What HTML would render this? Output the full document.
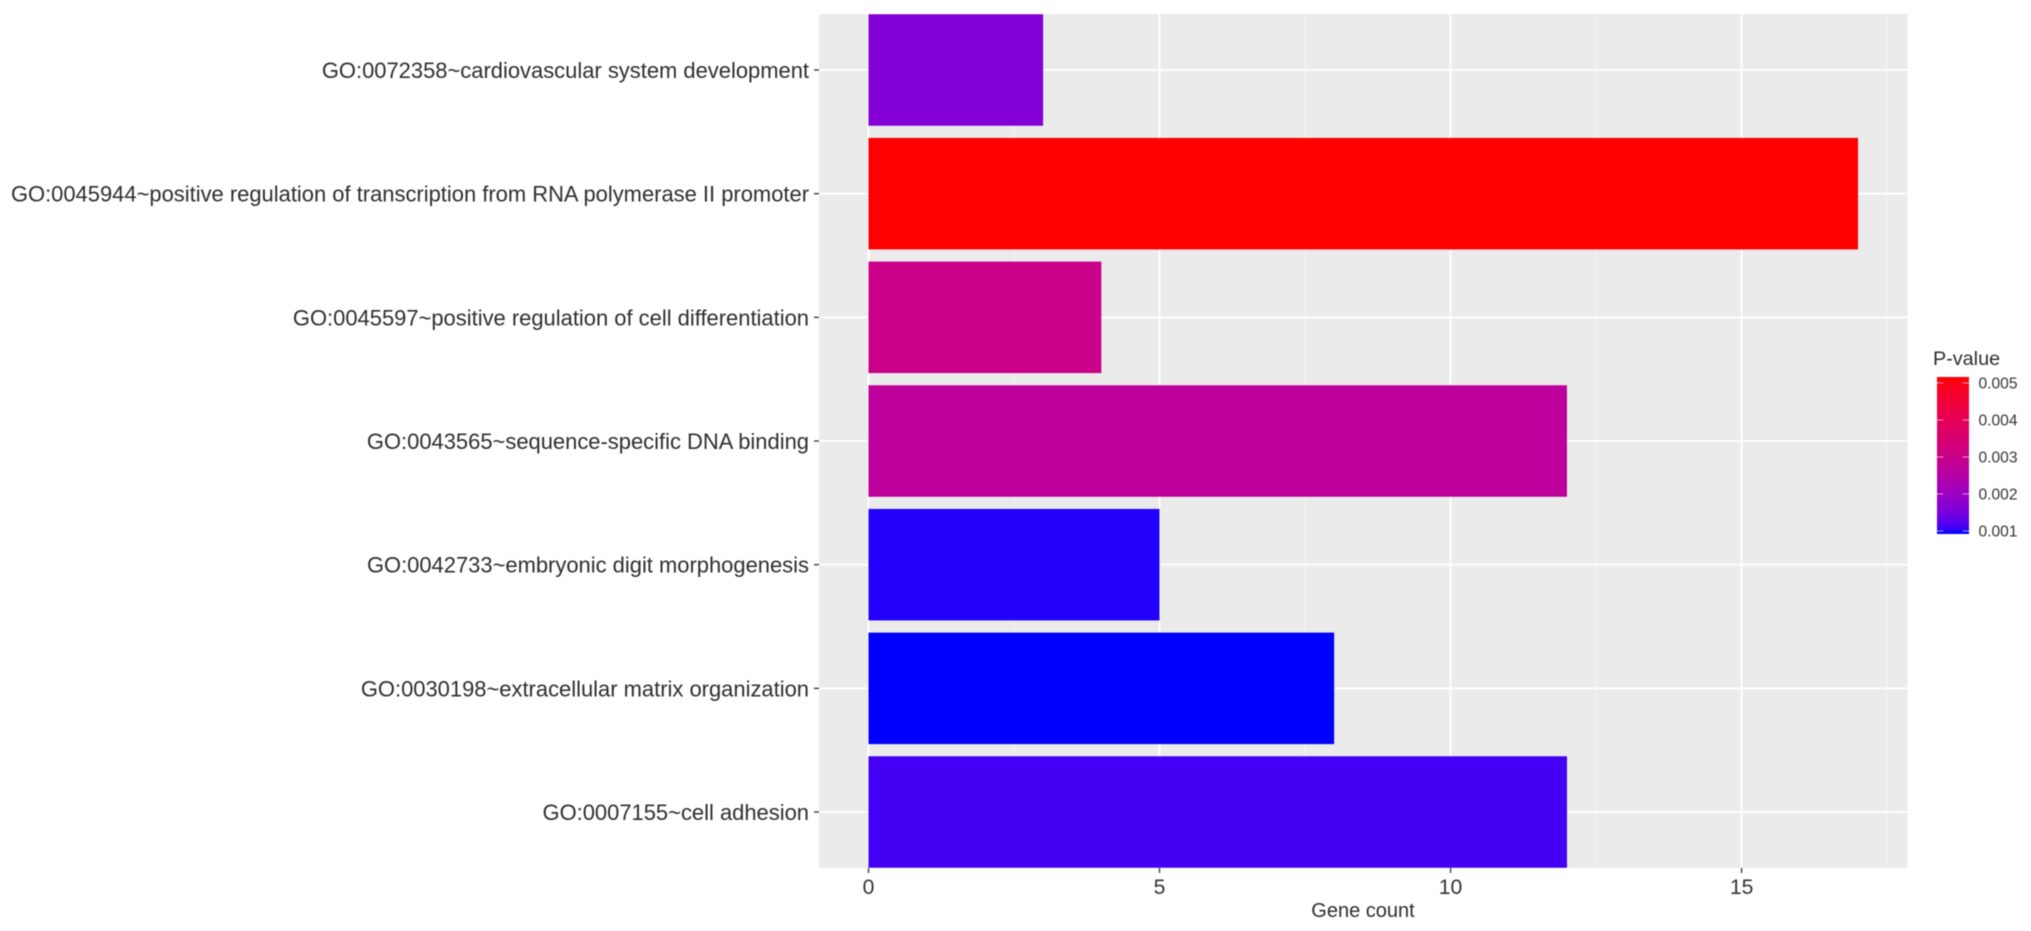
<!DOCTYPE html>
<html>
<head>
<meta charset="utf-8">
<title>GO enrichment bar chart</title>
<style>
html,body{margin:0;padding:0;background:#fff;width:2031px;height:931px;overflow:hidden}
svg{display:block;filter:blur(0.5px)}
text{font-family:"Liberation Sans",Arial,sans-serif}
</style>
</head>
<body>
<svg id="chart" xmlns="http://www.w3.org/2000/svg" width="2031" height="931" viewBox="0 0 2031 931"></svg>
<script>
const categories = [
  "GO:0072358~cardiovascular system development",
  "GO:0045944~positive regulation of transcription from RNA polymerase II promoter",
  "GO:0045597~positive regulation of cell differentiation",
  "GO:0043565~sequence-specific DNA binding",
  "GO:0042733~embryonic digit morphogenesis",
  "GO:0030198~extracellular matrix organization",
  "GO:0007155~cell adhesion"
];
const geneCounts = [3, 17, 4, 12, 5, 8, 12];
const pValues = [0.00164, 0.00516, 0.00304, 0.00270, 0.00097, 0.00092, 0.00109];
const xTicks = [0, 5, 10, 15];
const xMinorTicks = [2.5, 7.5, 12.5, 17.5];
const legendTicks = [0.001, 0.002, 0.003, 0.004, 0.005];
const legendTickLabels = ["0.001", "0.002", "0.003", "0.004", "0.005"];
const xDomain = [-0.85, 17.85];
const pDomain = [0.00092, 0.00516];

const NS = "http://www.w3.org/2000/svg";
const svg = document.getElementById("chart");
const panel = {left: 819, right: 1907.5, top: 14, bottom: 868};
const legendBar = {left: 1937, right: 1969, top: 377, bottom: 534};
const slotTop = 70, slotStep = 123.67, barThickness = 111.5;

function xScale(v) {
  return panel.left + (v - xDomain[0]) / (xDomain[1] - xDomain[0]) * (panel.right - panel.left);
}
function yScale(i) {
  return slotTop + i * slotStep;
}
function pScale(p) {
  return legendBar.bottom - (p - pDomain[0]) / (pDomain[1] - pDomain[0]) * (legendBar.bottom - legendBar.top);
}
function make(tag, attrs, parent) {
  const el = document.createElementNS(NS, tag);
  for (const k in attrs) el.setAttribute(k, attrs[k]);
  (parent || svg).appendChild(el);
  return el;
}

/* Lab interpolation from blue to red, like a ggplot2 gradient */
const labBlue = [32.30, 79.19, -107.86];
const labRed = [53.24, 80.09, 67.20];
function labToHex(L, a, b) {
  const fy = (L + 16) / 116, fx = fy + a / 500, fz = fy - b / 200;
  const inv = t => t > 6 / 29 ? t * t * t : 3 * (6 / 29) * (6 / 29) * (t - 4 / 29);
  const X = 0.95047 * inv(fx), Y = inv(fy), Z = 1.08883 * inv(fz);
  const lin = [
    3.2406 * X - 1.5372 * Y - 0.4986 * Z,
    -0.9689 * X + 1.8758 * Y + 0.0415 * Z,
    0.0557 * X - 0.2040 * Y + 1.0570 * Z
  ];
  return "#" + lin.map(c => {
    c = Math.min(1, Math.max(0, c));
    const s = c <= 0.0031308 ? 12.92 * c : 1.055 * Math.pow(c, 1 / 2.4) - 0.055;
    return Math.round(s * 255).toString(16).padStart(2, "0");
  }).join("");
}
function fillColor(p) {
  const t = Math.min(1, Math.max(0, (p - pDomain[0]) / (pDomain[1] - pDomain[0])));
  return labToHex(
    labBlue[0] + t * (labRed[0] - labBlue[0]),
    labBlue[1] + t * (labRed[1] - labBlue[1]),
    labBlue[2] + t * (labRed[2] - labBlue[2])
  );
}

/* panel */
const panelRect = make("rect", {x: panel.left, y: panel.top, width: panel.right - panel.left, height: panel.bottom - panel.top, fill: "#ebebeb"});



/* gridlines */
xMinorTicks.forEach(v => {
  const g = make("line", {x1: xScale(v), x2: xScale(v), y1: panel.top, y2: panel.bottom, stroke: "#f4f4f4", "stroke-width": 1});
  
  
});
xTicks.forEach(v => {
  const g = make("line", {x1: xScale(v), x2: xScale(v), y1: panel.top, y2: panel.bottom, stroke: "#ffffff", "stroke-width": 1.8});
  
  
});
categories.forEach((c, i) => {
  const g = make("line", {x1: panel.left, x2: panel.right, y1: yScale(i), y2: yScale(i), stroke: "#ffffff", "stroke-width": 1.8});
  
  
});

/* bars */
categories.forEach((c, i) => {
  const bar = make("rect", {
    x: xScale(0),
    y: yScale(i) - barThickness / 2,
    width: xScale(geneCounts[i]) - xScale(0),
    height: barThickness,
    fill: fillColor(pValues[i])
  });
  
  
});

/* y axis */
categories.forEach((c, i) => {
  const tick = make("line", {x1: panel.left - 5, x2: panel.left, y1: yScale(i), y2: yScale(i), stroke: "#333333", "stroke-width": 1.3});
  
  
  const label = make("text", {x: panel.left - 10, y: yScale(i) + 8, "text-anchor": "end", "font-size": 21.95, fill: "#2e2e2e"});
  label.textContent = c;
  
  
});

/* x axis */
xTicks.forEach(v => {
  const tick = make("line", {x1: xScale(v), x2: xScale(v), y1: panel.bottom, y2: panel.bottom + 5, stroke: "#333333", "stroke-width": 1.3});
  
  
  const label = make("text", {x: xScale(v), y: 894, "text-anchor": "middle", "font-size": 21.2, fill: "#333333"});
  label.textContent = String(v);
  
  
});
const xTitle = make("text", {x: 1363, y: 917, "text-anchor": "middle", "font-size": 20, fill: "#2e2e2e"});
xTitle.textContent = "Gene count";



/* legend */
const legendTitle = make("text", {x: 1933, y: 365, "font-size": 19.8, fill: "#2e2e2e"});
legendTitle.textContent = "P-value";



const defs = make("defs", {});
const grad = make("linearGradient", {id: "legendGradient", x1: 0, y1: 1, x2: 0, y2: 0}, defs);
for (let s = 0; s <= 20; s++) {
  const f = s / 20;
  make("stop", {offset: f, "stop-color": fillColor(pDomain[0] + f * (pDomain[1] - pDomain[0]))}, grad);
}
const legendRect = make("rect", {x: legendBar.left, y: legendBar.top, width: legendBar.right - legendBar.left, height: legendBar.bottom - legendBar.top, fill: "url(#legendGradient)"});



legendTicks.forEach((p, i) => {
  const y = pScale(p);
  const t1 = make("line", {x1: legendBar.left, x2: legendBar.left + 6.4, y1: y, y2: y, stroke: "#ffffff", "stroke-opacity": 0.6, "stroke-width": 1});
  
  
  const t2 = make("line", {x1: legendBar.right - 6.4, x2: legendBar.right, y1: y, y2: y, stroke: "#ffffff", "stroke-opacity": 0.6, "stroke-width": 1});
  
  
  const label = make("text", {x: 1978.5, y: y + 5.5, "font-size": 15.6, fill: "#333333"});
  label.textContent = legendTickLabels[i];
  
  
});
</script>
</body>
</html>
